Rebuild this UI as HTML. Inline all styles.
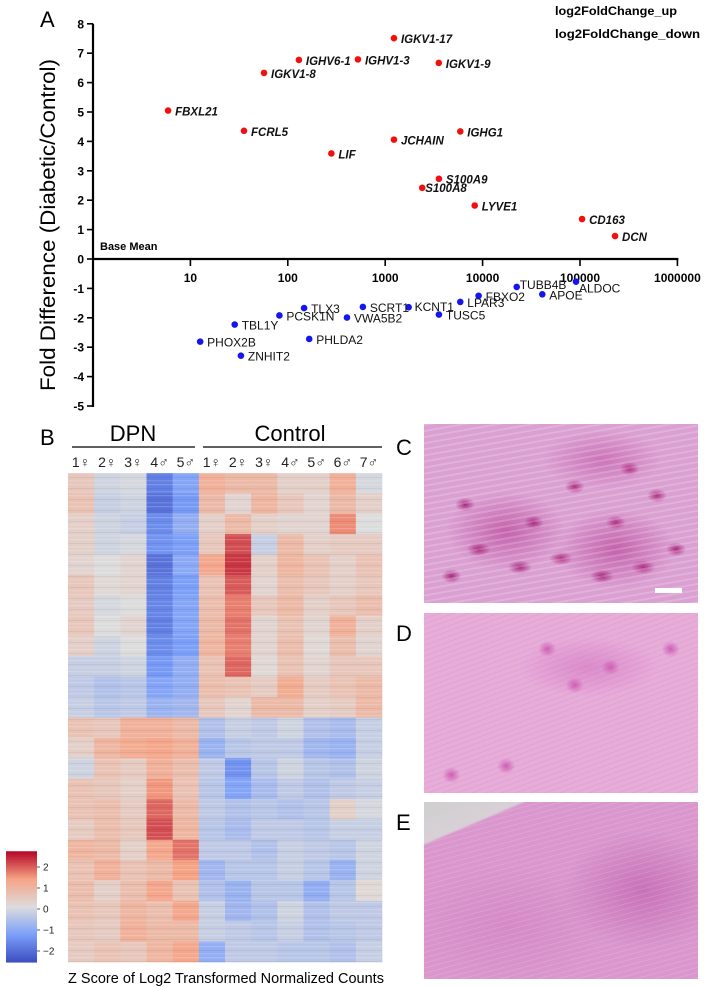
<!DOCTYPE html>
<html><head><meta charset="utf-8"><style>
body{margin:0;background:#fff;width:708px;height:987px;overflow:hidden;position:relative;font-family:"Liberation Sans",sans-serif}
.photo{position:absolute;left:424px;width:274px}
</style></head><body>
<svg id="fig" width="708" height="987" style="position:absolute;left:0;top:0" font-family="Liberation Sans, sans-serif">
  <defs>
    <pattern id="stripes" width="20" height="11" patternUnits="userSpaceOnUse">
      <rect x="0" y="0" width="20" height="1.2" fill="#fff" opacity="0.18"/>
      <rect x="0" y="4" width="20" height="1" fill="#000" opacity="0.05"/>
      <rect x="0" y="7" width="20" height="1.5" fill="#fff" opacity="0.12"/>
    </pattern>
  </defs>
  <text x="40" y="27" font-size="22">A</text>
  <text x="555" y="15" font-size="12" font-weight="bold" textLength="122" lengthAdjust="spacingAndGlyphs">log2FoldChange_up</text>
  <text x="555" y="38" font-size="12" font-weight="bold" textLength="145" lengthAdjust="spacingAndGlyphs">log2FoldChange_down</text>
  <text transform="translate(55,225) rotate(-90)" text-anchor="middle" font-size="21" textLength="332" lengthAdjust="spacingAndGlyphs">Fold Difference (Diabetic/Control)</text>
  <text x="100" y="250" font-size="11" font-weight="bold">Base Mean</text>
  <g id="axes"></g><g id="pts"></g>
  <text x="40" y="445" font-size="22">B</text>
  <text x="133" y="441" font-size="22" text-anchor="middle">DPN</text>
  <line x1="72" y1="447" x2="195" y2="447" stroke="#000" stroke-width="1.3"/>
  <text x="290" y="441" font-size="22" text-anchor="middle">Control</text>
  <line x1="203" y1="447" x2="382" y2="447" stroke="#000" stroke-width="1.3"/>
  <g id="samples"></g><g id="heat"></g>
  <rect x="68" y="473" width="314" height="489" fill="url(#stripes)"/>
  <g id="cbar"></g>
  <text x="226" y="983" font-size="14.5" text-anchor="middle">Z Score of Log2 Transformed Normalized Counts</text>
  <text x="396" y="455" font-size="22">C</text>
  <text x="396" y="641" font-size="22">D</text>
  <text x="396" y="830" font-size="22">E</text>
</svg>
<div class="photo" style="top:424px;height:179px;background:
repeating-linear-gradient(170deg,rgba(255,255,255,0.18) 0 2px,transparent 2px 6px),
radial-gradient(ellipse 12px 7px at 20% 70%,#a8287e,transparent),radial-gradient(ellipse 12px 7px at 35% 80%,#a8287e,transparent),radial-gradient(ellipse 12px 7px at 50% 75%,#b03085,transparent),radial-gradient(ellipse 12px 7px at 65% 85%,#a8287e,transparent),radial-gradient(ellipse 12px 7px at 80% 80%,#b03085,transparent),radial-gradient(ellipse 10px 7px at 15% 45%,#a8287e,transparent),radial-gradient(ellipse 10px 7px at 55% 35%,#b03085,transparent),radial-gradient(ellipse 10px 7px at 75% 25%,#b03085,transparent),radial-gradient(ellipse 10px 7px at 85% 40%,#b03085,transparent),radial-gradient(ellipse 10px 7px at 10% 85%,#a8287e,transparent),radial-gradient(ellipse 10px 7px at 40% 55%,#a8287e,transparent),radial-gradient(ellipse 10px 7px at 92% 70%,#a8287e,transparent),radial-gradient(ellipse 10px 7px at 70% 55%,#b03085,transparent),radial-gradient(ellipse 60px 40px at 30% 60%,#c462ac,transparent),radial-gradient(ellipse 60px 40px at 70% 70%,#c462ac,transparent),radial-gradient(ellipse 60px 30px at 65% 20%,#cc74b8,transparent),#dba0d2"><div style="position:absolute;left:231px;top:164px;width:27px;height:5px;background:#fff"></div></div>
<div class="photo" style="top:613px;height:180px;background:
repeating-linear-gradient(160deg,rgba(120,60,170,0.08) 0 1px,transparent 1px 5px),
radial-gradient(ellipse 9px 8px at 45% 20%,#cf5fb4,transparent),radial-gradient(ellipse 9px 8px at 55% 40%,#cf5fb4,transparent),radial-gradient(ellipse 9px 8px at 68% 30%,#cf5fb4,transparent),radial-gradient(ellipse 9px 8px at 90% 20%,#cf5fb4,transparent),radial-gradient(ellipse 9px 8px at 30% 85%,#cf5fb4,transparent),radial-gradient(ellipse 9px 8px at 10% 90%,#cf5fb4,transparent),radial-gradient(ellipse 70px 30px at 60% 30%,#dc8ccb,transparent),#e8acd9"></div>
<div class="photo" style="top:802px;height:177px;background:
linear-gradient(157deg,#cfcfcf 0,#d8d0d6 14%,transparent 15%),repeating-linear-gradient(165deg,rgba(255,255,255,0.12) 0 1px,transparent 1px 5px),radial-gradient(ellipse 80px 60px at 80% 50%,#c872b8,transparent),radial-gradient(ellipse 100px 60px at 30% 70%,#d58ac6,transparent),#d997cd"></div>
<script>
const NS='http://www.w3.org/2000/svg';
function mk(t,a,p){const e=document.createElementNS(NS,t);for(const k in a)e.setAttribute(k,a[k]);p.appendChild(e);return e;}
// scatter data
const upGenes=['IGKV1-17','IGHV6-1','IGHV1-3','IGKV1-9','IGKV1-8','FBXL21','FCRL5','JCHAIN','IGHG1','LIF','S100A9','S100A8','LYVE1','CD163','DCN'];
const upMean=[1230,130,525,3550,57,5.9,35.5,1230,5900,280,3560,2400,8300,105000,229000];
const upFC=[7.51,6.77,6.79,6.67,6.33,5.05,4.36,4.06,4.34,3.59,2.73,2.42,1.82,1.36,0.78];
const downGenes=['TUBB4B','ALDOC','APOE','FBXO2','LPAR3','KCNT1','TUSC5','SCRT1','TLX3','VWA5B2','PCSK1N','TBL1Y','PHOX2B','ZNHIT2','PHLDA2'];
const downMean=[22400,91000,41000,9100,5900,1740,3560,590,147,405,82,28.5,12.6,33,166];
const downFC=[-0.95,-0.77,-1.2,-1.25,-1.46,-1.64,-1.89,-1.63,-1.67,-1.99,-1.92,-2.23,-2.81,-3.29,-2.72];
const yTicks=[8,7,6,5,4,3,2,1,0,-1,-2,-3,-4,-5];
const xTicks=[10,100,1000,10000,100000,1000000];
const X=v=>93+Math.log10(v)*97.4, Y=v=>259-v*29.4;
const ax=document.getElementById('axes');
mk('line',{x1:93,y1:Y(8),x2:93,y2:Y(-5)+1,stroke:'#000','stroke-width':2.2},ax);
mk('line',{x1:93,y1:259,x2:X(1000000)+1,y2:259,stroke:'#000','stroke-width':2.2},ax);
yTicks.forEach(t=>{mk('line',{x1:87,y1:Y(t),x2:93,y2:Y(t),stroke:'#000','stroke-width':1.6},ax);
 const tx=mk('text',{x:84,y:Y(t)+4.5,'font-size':12,'font-weight':'bold','text-anchor':'end'},ax);tx.textContent=t;
 
 });
xTicks.forEach(t=>{mk('line',{x1:X(t),y1:259,x2:X(t),y2:266,stroke:'#000','stroke-width':1.6},ax);
 const tx=mk('text',{x:X(t),y:282,'font-size':12,'font-weight':'bold','text-anchor':'middle'},ax);tx.textContent=t;
 
 });
const pts=document.getElementById('pts');
const upOff={'S100A8':[3,4]};
upGenes.forEach((g,i)=>{const c=mk('circle',{cx:X(upMean[i]),cy:Y(upFC[i]),r:3.3,fill:'#f01010'},pts);
 
 
 const o=upOff[g]||[7,5];
 const t=mk('text',{x:X(upMean[i])+o[0],y:Y(upFC[i])+o[1],'font-size':11.5,'font-weight':'bold','font-style':'italic',fill:'#111'},pts);t.textContent=g;
 
 });
const dnOff={'TUBB4B':[3,2],'ALDOC':[3,11],'KCNT1':[6,4]};
downGenes.forEach((g,i)=>{const c=mk('circle',{cx:X(downMean[i]),cy:Y(downFC[i]),r:3.3,fill:'#1515ee'},pts);
 
 
 const o=dnOff[g]||[7,5];
 const t=mk('text',{x:X(downMean[i])+o[0],y:Y(downFC[i])+o[1],'font-size':12,fill:'#111'},pts);t.textContent=g;
 
 });
// heatmap data: block means per column (24 row blocks)
const sampleLabels=['1♀','2♀','3♀','4♂','5♂','1♀','2♀','3♀','4♂','5♂','6♂','7♂'];
const dpn1=[0.5,0.6,0.3,0.3,0.2,0.5,0.4,0.5,0.3,-0.3,-0.4,-0.3,0.6,0.3,-0.2,0.6,0.6,0.4,0.9,0.6,0.7,0.6,0.5,0.4];
const dpn2=[-0.2,-0.3,-0.2,-0.2,0,0.1,-0.1,0,-0.2,-0.3,-0.6,-0.5,0.5,0.9,0.6,0.5,0.7,0.7,0.8,1,0.3,0.5,0.4,0.6];
const dpn3=[-0.1,-0.2,-0.3,-0.1,0.2,0.2,0,0.2,0,-0.2,-0.5,-0.4,1,1.1,0.4,0.3,0.4,0.5,0.3,0.6,0.7,0.9,1,0.5];
const dpn4=[-1.8,-2,-1.6,-1.5,-2,-1.8,-1.7,-1.8,-1.6,-1.4,-1.2,-0.9,1,1.2,1,1.4,1.8,2,1.2,0.8,1.2,0.7,0.8,0.9];
const dpn5=[-1.2,-1.4,-1,-1.3,-1.1,-1.3,-1.2,-1.2,-1.3,-1,-1,-0.8,0.8,1,0.7,0.6,0.8,0.9,1.7,1.3,0.6,1.2,0.8,1.2];
const ctl1=[1,0.8,0.3,0.5,1.2,0.6,0.7,0.8,0.9,0.6,0.7,0.5,-0.6,-0.9,-0.4,-0.5,-0.4,-0.5,-0.4,-0.8,-0.6,-0.3,-0.3,-1];
const ctl2=[0.8,0.2,0.8,2,2.2,1.9,1.6,1.7,1.6,1.8,0.6,0.2,-0.3,-0.5,-1.5,-1.2,-0.6,-0.7,-0.4,-0.5,-0.9,-0.8,-0.4,-0.4];
const ctl3=[0.8,0.9,0.3,-0.3,0.3,0.2,0.5,0.2,0.2,0.1,0.4,0.8,-0.4,-0.4,-0.5,-0.7,-0.5,-0.4,-0.6,-0.5,-0.5,-0.6,-0.5,-0.4];
const ctl4=[0.3,0.5,0.2,0.8,0.9,0.7,0.8,0.6,0.7,0.6,1.1,0.8,-0.2,-0.4,-0.2,-0.4,-0.6,-0.4,-0.3,-0.3,-0.5,-0.2,-0.3,-0.5];
const ctl5=[0.3,0.2,0.2,0.3,0.6,0.5,0.3,0.2,0.1,0.2,0.4,0.3,-0.6,-0.8,-0.5,-0.6,-0.5,-0.5,-0.4,-0.5,-1,-0.6,-0.6,-0.5];
const ctl6=[1,0.8,1.5,0.4,0.3,0.3,0.5,1,0.7,0.5,0.6,0.4,-0.7,-0.9,-0.6,-0.4,0.3,-0.3,-0.5,-0.9,-0.5,-0.4,-0.5,-0.6];
const ctl7=[-0.1,0.3,0,0.4,0.6,0.5,0.7,0.3,0.2,0.5,0.8,0.8,-0.3,-0.3,-0.2,-0.3,-0.1,-0.3,-0.2,-0.2,0.1,-0.4,-0.4,-0.3];
const columns=[dpn1,dpn2,dpn3,dpn4,dpn5,ctl1,ctl2,ctl3,ctl4,ctl5,ctl6,ctl7];
const cbTicks=[2,1,0,-1,-2];
const stops=[[-2.6,[59,76,192]],[-1.3,[123,159,249]],[0,[221,220,220]],[1.3,[246,163,133]],[2.6,[180,4,38]]];
function col(v){v=Math.max(-2.6,Math.min(2.6,v));for(let i=0;i<stops.length-1;i++){const a=stops[i],b=stops[i+1];if(v<=b[0]){const t=(v-a[0])/(b[0]-a[0]);return 'rgb('+a[1].map((c,j)=>Math.round(c+(b[1][j]-c)*t)).join(',')+')';}}}
const HX0=68,HX1=382,HY0=473,HY1=962,cw=(HX1-HX0)/columns.length;
const heat=document.getElementById('heat');
columns.forEach((arr,ci)=>{const bh=(HY1-HY0)/arr.length;arr.forEach((v,ri)=>{
 const r=mk('rect',{x:HX0+ci*cw,y:HY0+ri*bh,width:cw+0.3,height:bh+0.3,fill:col(v)},heat);
 
 });});
const sm=document.getElementById('samples');
sampleLabels.forEach((s,i)=>{const t=mk('text',{x:HX0+(i+0.5)*cw,y:467,'font-size':14,'text-anchor':'middle',fill:'#222'},sm);t.textContent=s;
 
 });
// colorbar
const cb=document.getElementById('cbar');
const defs=mk('defs',{},cb);const lg=mk('linearGradient',{id:'cg',x1:0,y1:1,x2:0,y2:0},defs);
stops.forEach(s=>mk('stop',{offset:(s[0]+2.6)/5.2,'stop-color':'rgb('+s[1].join(',')+')'},lg));
const CBY=v=>909-v*21;
const cr=mk('rect',{x:6,y:CBY(2.75),width:31,height:CBY(-2.55)-CBY(2.75),fill:'url(#cg)'},cb);


cbTicks.forEach(t=>{mk('line',{x1:37,y1:CBY(t),x2:40,y2:CBY(t),stroke:'#333','stroke-width':0.8},cb);
 const tx=mk('text',{x:43,y:CBY(t)+3.5,'font-size':10,fill:'#222'},cb);tx.textContent=t<0?'−'+(-t):t;
 
 });
</script>
</body></html>
